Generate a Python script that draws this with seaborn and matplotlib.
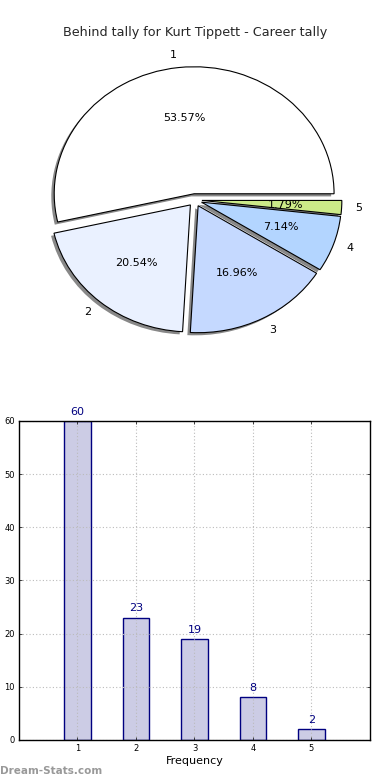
import matplotlib
matplotlib.use("Agg")
from matplotlib import pyplot as plt
import seaborn as sns
import pandas as pd

# data
labels = ["1", "2", "3", "4", "5"]
counts = [60, 23, 19, 8, 2]
pie_colors = ["#FFFFFF", "#EAF1FF", "#C5D9FF", "#B3D5FF", "#CCEA88"]
title = "Behind tally for Kurt Tippett - Career tally"

sns.set_theme(style="white")
plt.rcParams["font.family"] = ["DejaVu Sans"]

fig = plt.figure(figsize=(3.9, 7.8), dpi=100)

# PIE
ax1 = fig.add_axes([0.0513, 0.540, 0.897, 0.407])
wedges, texts, autotexts = ax1.pie(
    counts, labels=labels, colors=pie_colors, autopct="%.2f%%",
    explode=[0.05] * 5,
    shadow=dict(ox=-0.015, oy=-0.015, color="#888888", alpha=1, linewidth=0),
    startangle=0, labeldistance=1.1, pctdistance=0.6,
    wedgeprops=dict(edgecolor="black", linewidth=0.8),
    textprops=dict(fontsize=8, color="black"))
ax1.set_aspect("auto")
ax1.set_xlim(-1.25, 1.25)
ax1.set_ylim(-1.25, 1.25)
ax1.set_title(title, fontsize=9.2, pad=4)

# BARS
ax2 = fig.add_axes([0.0487, 0.0513, 0.9, 0.409])
df = pd.DataFrame({"x": [int(l) for l in labels], "count": counts})
sns.barplot(data=df, x="x", y="count", native_scale=True, width=0.45,
            color="#CCCCE5", edgecolor="#000080", linewidth=1,
            saturation=1, ax=ax2, zorder=2)
ax2.set_xlim(0, 6)
ax2.set_ylim(0, 60)
ax2.set_xticks(range(1, 6))
ax2.set_yticks(range(0, 61, 10))
ax2.grid(True, linestyle=(0, (1, 2)), color="#BBBBBB", linewidth=0.8)
ax2.set_axisbelow(False)
ax2.tick_params(labelsize=6, direction="in", length=2, width=0.5, top=True,
                right=True, bottom=True, left=True, pad=3, colors="black")
for s in ax2.spines.values():
    s.set_color("black")
    s.set_linewidth(1)
    s.set_zorder(5)
ax2.set_xlabel("Frequency", fontsize=8, labelpad=2, color="black")
ax2.set_ylabel("")
for xv, c in zip(df["x"], counts):
    ax2.text(xv, c + 0.8, str(c), ha="center", va="bottom", fontsize=8,
             color="#000080")

fig.text(0.0, 0.005, "Dream-Stats.com", fontsize=7.5, color="#999999",
         fontweight="bold", ha="left", va="bottom")

plt.savefig("out.png", dpi=100)
